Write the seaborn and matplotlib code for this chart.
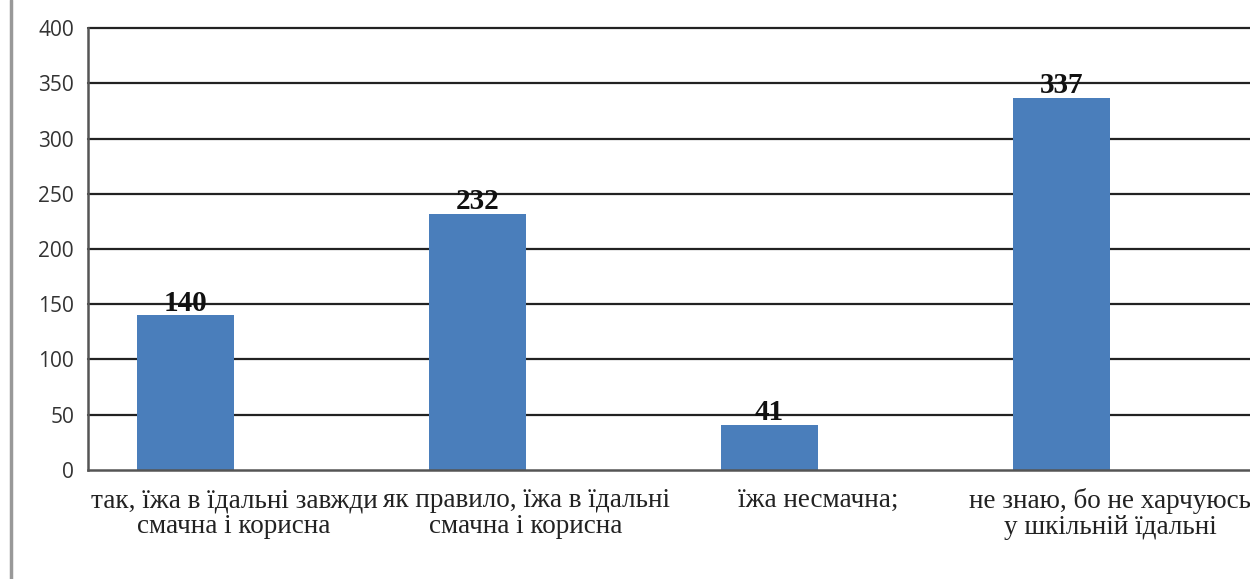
import matplotlib
matplotlib.use("Agg")
import matplotlib.pyplot as plt
import seaborn as sns
import pandas as pd
from matplotlib.lines import Line2D

# data
categories = [
    "так, їжа в їдальні завжди\nсмачна і корисна",
    "як правило, їжа в їдальні\nсмачна і корисна",
    "їжа несмачна;",
    "не знаю, бо не харчуюсь\nу шкільній їдальні",
]
values = [140, 232, 41, 337]
values_2 = [0, 0, 0, 0]  # second series is empty in the source chart
series = ["Ряд 1", "Ряд 2"]
y_ticks = [0, 50, 100, 150, 200, 250, 300, 350, 400]

df = pd.concat([
    pd.DataFrame({"cat": categories, "val": values, "series": series[0]}),
    pd.DataFrame({"cat": categories, "val": values_2, "series": series[1]}),
])

sns.set_style("white")
plt.rcParams["font.family"] = ["Liberation Serif", "DejaVu Serif"]

fig = plt.figure(figsize=(12.5, 5.79), dpi=100)
ax = fig.add_axes([0.0704, 0.1883, 0.9296, 0.7633])

sns.barplot(data=df, x="cat", y="val", hue="series", hue_order=series,
            palette=["#4a7ebb", "#c0504d"], width=0.664, saturation=1,
            linewidth=0, legend=False, ax=ax, zorder=3)

ax.set_ylim(0, 400)
ax.set_yticks(y_ticks)
ax.set_xlim(-0.5, 3.479)
ax.set_xlabel("")
ax.set_ylabel("")

# gridlines
for t in y_ticks[1:]:
    ax.axhline(t, color="#222222", lw=1.6, zorder=1, clip_on=False)

for s in ["top", "right"]:
    ax.spines[s].set_visible(False)
for s in ["left", "bottom"]:
    ax.spines[s].set_color("#555555")
    ax.spines[s].set_linewidth(1.8)
    ax.spines[s].set_zorder(4)

ax.tick_params(axis="y", length=0, pad=10, labelsize=15, labelcolor="#333333")
for lbl in ax.get_yticklabels():
    lbl.set_family(["Open Sans", "DejaVu Sans"])
ax.tick_params(axis="x", length=0, pad=13, labelsize=19.5, labelcolor="#222222")
for lbl in ax.get_xticklabels():
    lbl.set_linespacing(1.06)

ax.bar_label(ax.containers[0], fontweight="bold", fontsize=21, padding=-1,
             color="#111111", zorder=5)

# left page border line
fig.add_artist(Line2D([0.0085, 0.0085], [0, 1], color="#999999", lw=2.5,
                      transform=fig.transFigure))

fig.savefig("out.png", dpi=100)
